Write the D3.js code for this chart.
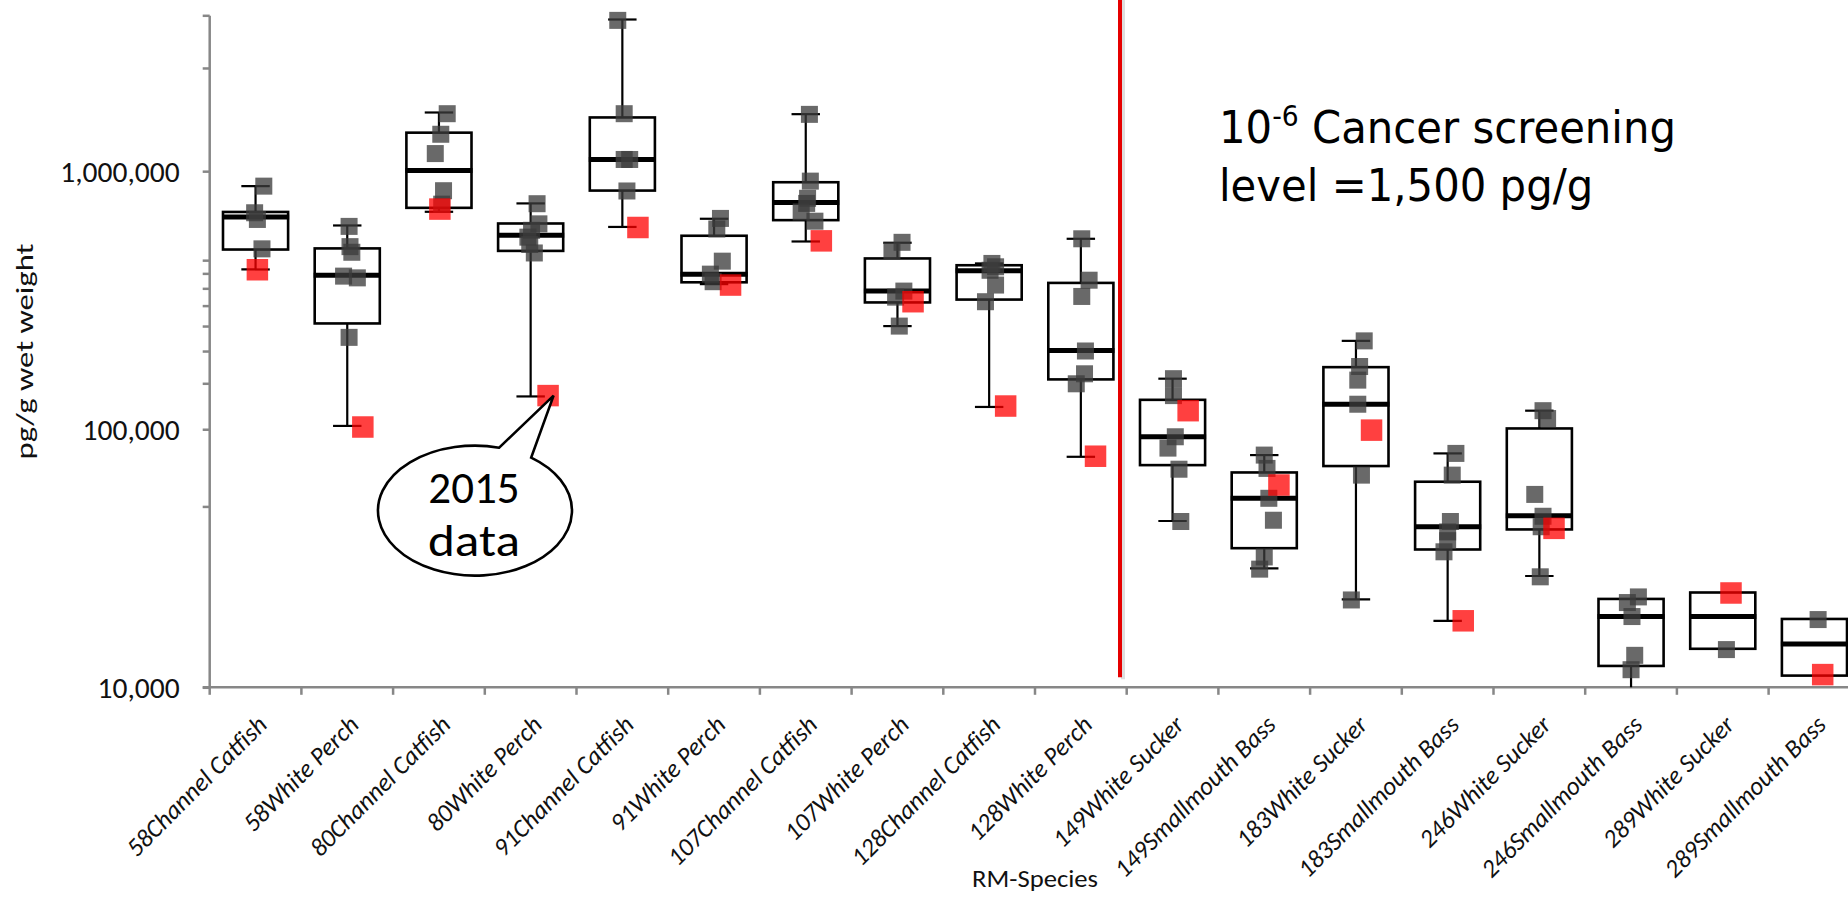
<!DOCTYPE html>
<html>
<head>
<meta charset="utf-8">
<script src="https://cdn.jsdelivr.net/npm/d3@7"></script>
<style>
  html, body { margin: 0; padding: 0; background: #fff; overflow: hidden; }
  svg { display: block; }
</style>
</head>
<body>
<svg id="chart" width="1848" height="897"></svg>
<script>
// ---------------- DATA ----------------
const categories = [
  "58Channel Catfish", "58White Perch", "80Channel Catfish", "80White Perch",
  "91Channel Catfish", "91White Perch", "107Channel Catfish", "107White Perch",
  "128Channel Catfish", "128White Perch", "149White Sucker", "149Smallmouth Bass",
  "183White Sucker", "183Smallmouth Bass", "246White Sucker", "246Smallmouth Bass",
  "289White Sucker", "289Smallmouth Bass"
];
const whiskerLow  = [416000, 103000, 696000, 134000, 608000, 365000, 534000, 251000, 122000, 78200, 44100, 28900, 21900, 18100, 27000, 9000, null, null];
const q1          = [497000, 257000, 721000, 491000, 841000, 371000, 646000, 310000, 318000, 156000, 72600, 34600, 72000, 34200, 40900, 12100, 14100, 11100];
const median      = [665000, 395000, 1006000, 565000, 1110000, 399000, 756000, 343000, 411000, 202000, 93500, 54000, 125000, 41900, 46200, 18800, 18800, 14700];
const q3          = [695000, 502000, 1410000, 627000, 1615000, 562000, 906000, 459000, 432000, 369000, 130000, 68000, 174000, 62600, 100700, 22000, 23300, 18400];
const whiskerHigh = [875000, 616000, 1688000, 750000, 3870000, 654000, 1663000, 528000, 439000, 547000, 157000, 79400, 220000, 80600, 118000, null, null, null];

// individual fish (grey squares)
const grayValues = [
  [875000, 690000, 650000, 500000],
  [611000, 510000, 485000, 392000, 386000, 227000],
  [1670000, 1390000, 1170000, 840000, 745000],
  [748000, 625000, 590000, 555000, 520000, 482000],
  [3840000, 1670000, 1110000, 1110000, 838000],
  [656000, 597000, 448000, 399000, 373000],
  [1660000, 915000, 785000, 750000, 695000, 640000],
  [530000, 491000, 343000, 325000, 251000],
  [439000, 426000, 413000, 362000, 312000],
  [547000, 378000, 327000, 201000, 164000, 150000],
  [157000, 135000, 93500, 84500, 70000, 43900],
  [79400, 70500, 54000, 44400, 32000, 28700],
  [220000, 175000, 155000, 125000, 66400, 21800],
  [80600, 66400, 43900, 40000, 37000, 33500],
  [118000, 110000, 55900, 46000, 41900, 26800],
  [22400, 21300, 18800, 13300, 11700],
  [14000],
  [18300]
];
// horizontal jitter of the grey squares (fraction of category width)
const grayJitter = [
  [0.09, -0.01, 0.02, 0.07],
  [0.02, 0.03, 0.05, -0.04, 0.11, 0.02],
  [0.09, 0.02, -0.04, 0.05, 0.03],
  [0.07, 0.09, 0.01, -0.03, -0.01, 0.04],
  [-0.05, 0.02, 0.02, 0.08, 0.05],
  [0.07, 0.03, 0.09, -0.04, -0.01],
  [0.04, 0.05, 0.02, 0.01, -0.05, 0.10],
  [0.05, -0.06, 0.07, -0.02, 0.02],
  [0.03, 0.07, 0.01, 0.07, -0.04],
  [0.01, 0.09, 0.01, 0.05, 0.04, -0.05],
  [0.01, 0.01, 0.03, -0.05, 0.07, 0.09],
  [0.00, 0.03, 0.05, 0.10, 0.00, -0.05],
  [0.09, 0.04, 0.02, 0.02, 0.06, -0.05],
  [0.09, 0.05, 0.03, 0.00, 0.00, -0.04],
  [0.04, 0.09, -0.05, 0.04, 0.02, 0.01],
  [0.08, -0.04, 0.01, 0.04, 0.00],
  [0.04],
  [0.04]
];
// 2015 data (red squares)
const redValues = [415000, 102000, 713000, 135000, 605000, 362000, 537000, 312000, 123000, 78600, 118000, 60800, 99200, 18100, 41300, null, 23200, 11200];
const redJitter = [0.02, 0.17, 0.01, 0.19, 0.17, 0.18, 0.17, 0.17, 0.18, 0.16, 0.17, 0.16, 0.17, 0.17, 0.16, 0, 0.09, 0.09];

const majorTicks = [10000, 100000, 1000000];
const minorTicks = [50000, 150000, 200000, 250000, 300000, 350000, 400000, 450000, 2500000, 4000000];

const yTitle = "pg/g wet weight";
const xTitle = "RM-Species";
const noteLine1 = ["10", "-6", " Cancer screening"];
const noteLine2 = "level =1,500 pg/g";
const calloutLines = ["2015", "data"];
const calloutCategory = "80White Perch";

// ---------------- LAYOUT ----------------
const svg = d3.select("#chart");
const plotLeft = 209.7, step = 91.7, plotBottom = 687.3, plotTop = 15.8;

const x = d3.scaleBand().domain(categories)
  .range([plotLeft, plotLeft + step * categories.length]).padding(0);
const y = d3.scaleLog().domain([10000, 4000000]).range([plotBottom, plotTop]);
const bw = x.bandwidth();
const cx = c => x(c) + bw / 2;
const boxW = bw * 0.71;
const capW = bw * 0.31;

const axisColor = "#878787";
const labelFont = "Carlito, Lato, 'Open Sans', sans-serif";

svg.append("defs").append("clipPath").attr("id", "plotClip")
  .append("rect").attr("x", plotLeft).attr("y", 0)
  .attr("width", 1848 - plotLeft).attr("height", plotBottom);

// ---- Y axis ----
const yAxisG = svg.append("g").attr("transform", `translate(${plotLeft},0)`);
yAxisG.call(d3.axisLeft(y).tickValues(majorTicks).tickFormat(d3.format(",")).tickSize(7).tickPadding(23));
yAxisG.select(".domain").remove();
yAxisG.selectAll(".tick line").attr("stroke", axisColor).attr("stroke-width", 2.5);
yAxisG.selectAll(".tick text").attr("font-family", labelFont).attr("font-size", 29.5)
  .attr("fill", "#111").attr("dy", "0.36em");
yAxisG.selectAll(".minor").data(minorTicks).enter().append("line")
  .attr("class", "minor").attr("x1", -7).attr("x2", 0)
  .attr("y1", d => y(d)).attr("y2", d => y(d))
  .attr("stroke", axisColor).attr("stroke-width", 2.5);
yAxisG.append("line").attr("x1", 0).attr("x2", 0)
  .attr("y1", y.range()[1]).attr("y2", plotBottom)
  .attr("stroke", axisColor).attr("stroke-width", 2.5);

// ---- X axis ----
const xAxisG = svg.append("g");
xAxisG.append("line").attr("x1", plotLeft - 7).attr("x2", x.range()[1])
  .attr("y1", plotBottom).attr("y2", plotBottom)
  .attr("stroke", axisColor).attr("stroke-width", 2.5);
const boundaries = d3.range(categories.length + 1).map(i => x.range()[0] + i * x.step());
xAxisG.selectAll(".xt").data(boundaries).enter().append("line")
  .attr("x1", d => d).attr("x2", d => d)
  .attr("y1", plotBottom).attr("y2", plotBottom + 7.5)
  .attr("stroke", axisColor).attr("stroke-width", 2.5);
xAxisG.selectAll(".xl").data(categories).enter().append("text")
  .attr("transform", d => `translate(${cx(d) + 13},${plotBottom + 39}) rotate(-45)`)
  .attr("text-anchor", "end")
  .attr("font-family", labelFont).attr("font-size", 25.5).attr("font-style", "italic")
  .attr("fill", "#111")
  .text(d => d);

// axis titles
svg.append("text")
  .attr("transform", `translate(33,${(plotTop + plotBottom) / 2}) rotate(-90)`)
  .attr("text-anchor", "middle")
  .attr("font-family", labelFont).attr("font-size", 24).attr("fill", "#111")
  .attr("textLength", 216).attr("lengthAdjust", "spacingAndGlyphs")
  .text(yTitle);
svg.append("text")
  .attr("x", (x.range()[0] + x.range()[1]) / 2).attr("y", 887)
  .attr("text-anchor", "middle")
  .attr("font-family", labelFont).attr("font-size", 25).attr("fill", "#111")
  .attr("textLength", 126).attr("lengthAdjust", "spacingAndGlyphs")
  .text(xTitle);

// ---- Box plots ----
const plot = svg.append("g").attr("clip-path", "url(#plotClip)");
const idx = d3.range(categories.length);

// whiskers
idx.forEach(i => {
  const c = cx(categories[i]);
  const g = plot.append("g").attr("stroke", "#000").attr("stroke-width", 2.2);
  if (whiskerHigh[i] != null) {
    g.append("line").attr("x1", c).attr("x2", c).attr("y1", y(q3[i])).attr("y2", y(whiskerHigh[i]));
    g.append("line").attr("x1", c - capW / 2).attr("x2", c + capW / 2)
      .attr("y1", y(whiskerHigh[i])).attr("y2", y(whiskerHigh[i]));
  }
  if (whiskerLow[i] != null) {
    g.append("line").attr("x1", c).attr("x2", c).attr("y1", y(q1[i])).attr("y2", y(whiskerLow[i]));
    g.append("line").attr("x1", c - capW / 2).attr("x2", c + capW / 2)
      .attr("y1", y(whiskerLow[i])).attr("y2", y(whiskerLow[i]));
  }
});
// boxes
plot.selectAll(".box").data(idx).enter().append("rect")
  .attr("x", i => cx(categories[i]) - boxW / 2)
  .attr("y", i => y(q3[i]))
  .attr("width", boxW)
  .attr("height", i => y(q1[i]) - y(q3[i]))
  .attr("fill", "none").attr("stroke", "#000").attr("stroke-width", 2.6);
// medians
plot.selectAll(".med").data(idx).enter().append("line")
  .attr("x1", i => cx(categories[i]) - boxW / 2 - 1)
  .attr("x2", i => cx(categories[i]) + boxW / 2 + 1)
  .attr("y1", i => y(median[i])).attr("y2", i => y(median[i]))
  .attr("stroke", "#000").attr("stroke-width", 5);

// grey squares
const gs = 17;
const grayPts = [];
idx.forEach(i => grayValues[i].forEach((v, j) =>
  grayPts.push({ c: categories[i], v: v, j: grayJitter[i][j] })));
plot.selectAll(".gp").data(grayPts).enter().append("rect")
  .attr("x", d => cx(d.c) + d.j * bw - gs / 2)
  .attr("y", d => y(d.v) - gs / 2)
  .attr("width", gs).attr("height", gs)
  .attr("fill", "#3c3c3c").attr("fill-opacity", 0.77);

// red squares
const rs = 21.5;
const redPts = idx.filter(i => redValues[i] != null)
  .map(i => ({ c: categories[i], v: redValues[i], j: redJitter[i] }));
plot.selectAll(".rp").data(redPts).enter().append("rect")
  .attr("x", d => cx(d.c) + d.j * bw - rs / 2)
  .attr("y", d => y(d.v) - rs / 2)
  .attr("width", rs).attr("height", rs)
  .attr("fill", "#ff0000").attr("fill-opacity", 0.75);

// ---- Red divider line ----
const divX = x("149White Sucker") - 6.7;
svg.append("line").attr("x1", divX + 3).attr("x2", divX + 3)
  .attr("y1", 0).attr("y2", plotBottom - 8)
  .attr("stroke", "#c8c8c8").attr("stroke-width", 4).attr("stroke-opacity", 0.6);
svg.append("line").attr("x1", divX).attr("x2", divX)
  .attr("y1", 0).attr("y2", plotBottom - 10)
  .attr("stroke", "#e60000").attr("stroke-width", 4);

// ---- Screening level note ----
const noteFont = "Tahoma, 'DejaVu Sans', Verdana, sans-serif";
const note = svg.append("g").attr("transform", "translate(1219,0) scale(0.95,1)");
const t1 = note.append("text").attr("x", 0).attr("y", 143.5)
  .attr("font-family", noteFont).attr("font-size", 44).attr("fill", "#000");
t1.append("tspan").text(noteLine1[0]);
t1.append("tspan").attr("font-size", 28).attr("dy", -17).text(noteLine1[1]);
t1.append("tspan").attr("dy", 17).text(noteLine1[2]);
note.append("text").attr("x", 0).attr("y", 201)
  .attr("font-family", noteFont).attr("font-size", 44).attr("fill", "#000")
  .text(noteLine2);

// ---- Callout "2015 data" ----
const ci = categories.indexOf(calloutCategory);
const tipX = cx(calloutCategory) + 0.25 * bw, tipY = y(redValues[ci]);
const ecx = tipX - 78.6, ecy = tipY + 115, erx = 97, ery = 65;
const aAng = Math.atan2(-62.4 / ery, 24 / erx), bAng = Math.atan2(-52.4 / ery, 55.6 / erx);
const A = [ecx + erx * Math.cos(aAng), ecy + ery * Math.sin(aAng)];
const B = [ecx + erx * Math.cos(bAng), ecy + ery * Math.sin(bAng)];
svg.append("path")
  .attr("d", `M${A[0]},${A[1]} A${erx},${ery} 0 1 0 ${B[0]},${B[1]} L${tipX},${tipY} Z`)
  .attr("fill", "#fff").attr("stroke", "#000").attr("stroke-width", 2.6)
  .attr("stroke-linejoin", "miter");
svg.selectAll(".ct").data(calloutLines).enter().append("text")
  .attr("x", ecx - 1).attr("y", (d, i) => ecy - 8 + i * 53)
  .attr("text-anchor", "middle")
  .attr("font-family", labelFont).attr("font-size", 45).attr("fill", "#000")
  .attr("textLength", (d, i) => i === 1 ? 92 : null)
  .attr("lengthAdjust", "spacingAndGlyphs")
  .text(d => d);
</script>
</body>
</html>
